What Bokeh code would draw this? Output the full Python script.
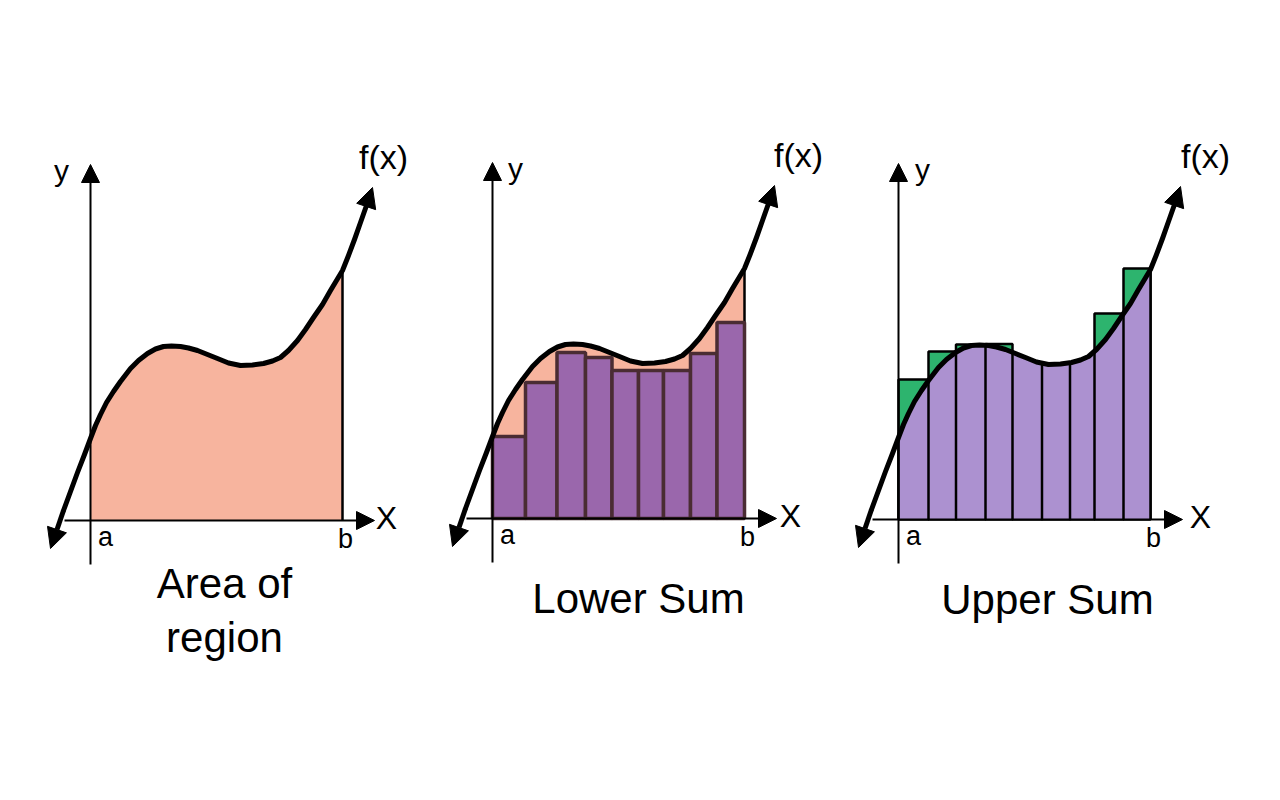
import numpy as np
from bokeh.plotting import figure
from bokeh.layouts import row
from bokeh.models import Range1d, Arrow, NormalHead
from bokeh.core.properties import value
from bokeh.embed import file_html
from bokeh.resources import INLINE

# ---- data (x: a = 0, b = 252; y: x-axis = 0) ----
curve_x = [-40, -27, -13, -6, 0, 5, 10, 16, 23, 30, 40, 48, 57, 65, 73, 81, 90, 98, 107, 117, 127, 138, 150,
           162, 173, 182, 190, 198, 207, 215, 223, 232, 240, 246, 252, 258, 264, 270, 276, 282]
curve_y = [-28, 10, 48, 66, 82, 95, 106, 118, 129, 139, 152, 160, 167, 171.5, 174, 174.5, 174, 172.5, 170, 166,
           162, 157.5, 155, 155.5, 157, 159.5, 163, 170, 180, 191, 203, 216, 230, 240, 250, 265, 281, 298, 315, 333]
a_pos, b_pos = 0, 252
tick_labels = ["a", "b"]

lower_edges = [0, 33, 64.5, 93, 119.5, 146, 171, 198, 224.5, 252]
lower_tops = [82, 136, 166, 161, 148, 148, 148, 165, 196]
upper_edges = [0, 30, 57.5, 87, 114, 143.5, 171.5, 196, 225, 252]
upper_tops = [140, 168, 175, 175.5, 156, 155, 157, 206, 251]

captions = [["Area of", "region"], ["Lower Sum"], ["Upper Sum"]]

PINK = "#F7B49E"
PURPLE = "#9A67AC"
PURPLE_EDGE = "#4A2C33"
LAVENDER = "#AC91D0"
GREEN = "#2DB46E"
FONT = value("Liberation Sans")


def make_panel(fig_left, width, ox, oy):
    xs = -(ox - fig_left)
    ys = -(784 - oy)
    p = figure(width=width, height=784, x_range=Range1d(xs, xs + width), y_range=Range1d(ys, ys + 784),
               toolbar_location=None, output_backend="svg", x_axis_type=None, y_axis_type=None,
               min_border=0, outline_line_color=None)
    p.grid.visible = False
    p.background_fill_color = "white"
    p.border_fill_color = "white"
    return p


def area_under(p, color):
    fx = [x for x in curve_x if a_pos <= x <= b_pos]
    fy = [y for x, y in zip(curve_x, curve_y) if a_pos <= x <= b_pos]
    p.varea(x=fx, y1=[0] * len(fx), y2=fy, fill_color=color)
    return fy[-1]


def curve_and_axes(p, ylabel_dx, fx_dx, X_dx):
    head = dict(fill_color="black", line_color="black", line_width=1)
    p.add_layout(Arrow(end=NormalHead(size=18, **head),
                       x_start=0, y_start=-44, x_end=0, y_end=356, line_width=2, line_color="black"))
    p.add_layout(Arrow(end=NormalHead(size=18, **head),
                       x_start=-26, y_start=0, x_end=284, y_end=0, line_width=2, line_color="black"))
    p.line(curve_x[1:-1], curve_y[1:-1], line_width=5, line_color="black", line_join="round", line_cap="round")
    for (x0, y0, x1, y1) in [(curve_x[1], curve_y[1], curve_x[0], curve_y[0]),
                             (curve_x[-2], curve_y[-2], curve_x[-1], curve_y[-1])]:
        p.add_layout(Arrow(end=NormalHead(size=20, **head),
                           x_start=x0, y_start=y0, x_end=x1, y_end=y1, line_width=5, line_color="black"))
    p.text(x=[ylabel_dx], y=[350], text=["y"], text_font=FONT, text_font_size="30px",
           text_align="center", text_baseline="middle", text_color="black")
    p.text(x=[fx_dx], y=[364], text=["f(x)"], text_font=FONT, text_font_size="34px",
           text_align="center", text_baseline="middle", text_color="black")
    p.text(x=[X_dx], y=[3], text=["X"], text_font=FONT, text_font_size="32px",
           text_align="center", text_baseline="middle", text_color="black")
    p.text(x=[a_pos + 15, b_pos + 3], y=[-16, -18], text=tick_labels, text_font=FONT, text_font_size="27px",
           text_align="center", text_baseline="middle", text_color="black")


def add_caption(p, cx, lines, base0, step):
    p.text(x=[cx] * len(lines), y=[base0 - i * step for i in range(len(lines))], text=lines,
           text_font=FONT, text_font_size="42px", text_align="center", text_baseline="alphabetic",
           text_color="black")


# Panel 1: area of region
p1 = make_panel(0, 421, 90, 520)
fb = area_under(p1, PINK)
p1.segment(x0=[b_pos], y0=[0], x1=[b_pos], y1=[fb], line_width=2.5, line_color="black")
curve_and_axes(p1, -29, 293, 296)
add_caption(p1, 134, captions[0], -63, 54)

# Panel 2: lower sum
p2 = make_panel(421, 421, 492, 518)
fb = area_under(p2, PINK)
p2.segment(x0=[b_pos], y0=[0], x1=[b_pos], y1=[fb], line_width=2.5, line_color="black")
p2.quad(left=lower_edges[:-1], right=lower_edges[1:], bottom=0, top=lower_tops,
        fill_color=PURPLE, line_color=PURPLE_EDGE, line_width=3.5)
curve_and_axes(p2, 23, 306, 298)
add_caption(p2, 146, captions[1], -80, 54)

# Panel 3: upper sum
p3 = make_panel(842, 422, 898, 519)
p3.quad(left=upper_edges[:-1], right=upper_edges[1:], bottom=0, top=upper_tops,
        fill_color=GREEN, line_color="black", line_width=2.5)
area_under(p3, LAVENDER)
edge_tops = np.interp(upper_edges, curve_x, curve_y)
p3.segment(x0=upper_edges, y0=[0] * len(upper_edges), x1=upper_edges, y1=edge_tops,
           line_width=2.5, line_color="black")
curve_and_axes(p3, 24, 307, 302)
add_caption(p3, 149, captions[2], -80, 54)

layout = row(p1, p2, p3, spacing=0)
open("out.html", "w").write(file_html(layout, INLINE))
